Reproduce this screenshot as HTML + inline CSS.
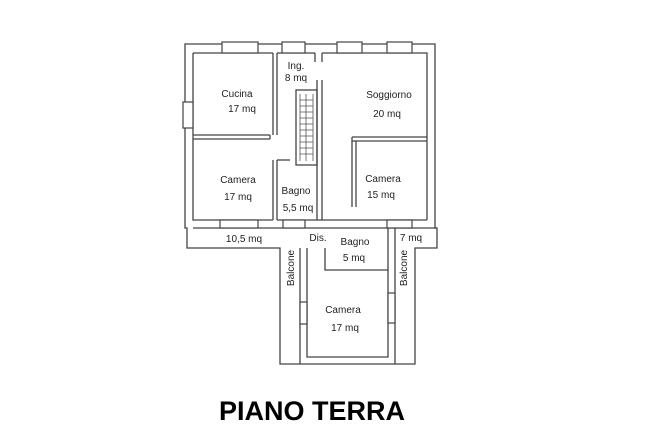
<!DOCTYPE html>
<html><head><meta charset="utf-8"><style>
body{margin:0;background:#fff;width:650px;height:440px;overflow:hidden}
svg{display:block}
text{font-family:"Liberation Sans",sans-serif;fill:#222;font-size:10px}
</style></head><body>
<svg width="650" height="440" viewBox="0 0 650 440">
<g fill="none" stroke="#444" stroke-width="1.3">
<!-- outer main block -->
<path d="M185,44 H435 V228 H437 V248 H415 V364 H280 V248 H187 V228 H185 Z"/>
<!-- inner outline main -->
<path d="M193,53 H273 M277,53 H315 M322,53 H427 V220 M193,53 V220 H273 M277,220 H427"/>
<path d="M193,228 H437"/>
<!-- lower block -->
<path d="M300,248 V364 M307,248 V357 H388 V248 M395,248 V364 M388,228 V248 M395,228 V248"/>
<path d="M325,248 V270 H388"/>
<!-- interior walls -->
<path d="M193,135 H270 M193,139 H270 M270,135 V139"/>
<path d="M273,53 V135 M277,53 V135 M273,160 V220 M277,160 V220"/>
<path d="M317,80 V220 M322,80 V220"/>
<path d="M352,137 H427 M352,141 H427 M352,137 V207 M356,141 V207"/>
<path d="M277,160 H290"/>
<path d="M315,53 V62 M322,53 V62"/>
<!-- stair -->
<rect x="296" y="90" width="21" height="75"/>
</g>
<g stroke="#555" stroke-width="0.8">
<path d="M300,94 V161 M313,94 V161"/>
<path d="M300,100 H313 M300,106 H313 M300,112 H313 M300,118 H313 M300,124 H313 M300,130 H313 M300,136 H313 M300,142 H313 M300,148 H313 M300,154 H313"/>
<path d="M306,94 V161"/>
</g>
<g fill="#fff" stroke="#444" stroke-width="1.2">
<rect x="222" y="42" width="36" height="11"/>
<rect x="282" y="42" width="23" height="11"/>
<rect x="337" y="42" width="25" height="11"/>
<rect x="387" y="42" width="25" height="11"/>
<rect x="183" y="102" width="10" height="26"/>
<rect x="220" y="220" width="38" height="8"/>
<rect x="283" y="220" width="22" height="8"/>
<rect x="387" y="220" width="25" height="8"/>
<rect x="300" y="302" width="7" height="22"/>
<rect x="388" y="293" width="7" height="30"/>
</g>
<text x="296" y="69" text-anchor="middle">Ing.</text>
<text x="296" y="81" text-anchor="middle">8 mq</text>
<text x="237" y="97" text-anchor="middle">Cucina</text>
<text x="242" y="112" text-anchor="middle">17 mq</text>
<text x="389" y="98" text-anchor="middle">Soggiorno</text>
<text x="387" y="117" text-anchor="middle">20 mq</text>
<text x="238" y="183" text-anchor="middle">Camera</text>
<text x="238" y="200" text-anchor="middle">17 mq</text>
<text x="296" y="194" text-anchor="middle">Bagno</text>
<text x="298" y="211" text-anchor="middle">5,5 mq</text>
<text x="383" y="182" text-anchor="middle">Camera</text>
<text x="381" y="198" text-anchor="middle">15 mq</text>
<text x="244" y="242" text-anchor="middle">10,5 mq</text>
<text x="318" y="241" text-anchor="middle">Dis.</text>
<text x="355" y="245" text-anchor="middle">Bagno</text>
<text x="354" y="261" text-anchor="middle">5 mq</text>
<text x="411" y="241" text-anchor="middle">7 mq</text>
<text transform="translate(294,268) rotate(-90)" text-anchor="middle">Balcone</text>
<text transform="translate(407,268) rotate(-90)" text-anchor="middle">Balcone</text>
<text x="343" y="313" text-anchor="middle">Camera</text>
<text x="345" y="331" text-anchor="middle">17 mq</text>
<text x="312" y="420" text-anchor="middle" style="font-size:27px;font-weight:bold;fill:#000">PIANO TERRA</text>
</svg>
</body></html>
